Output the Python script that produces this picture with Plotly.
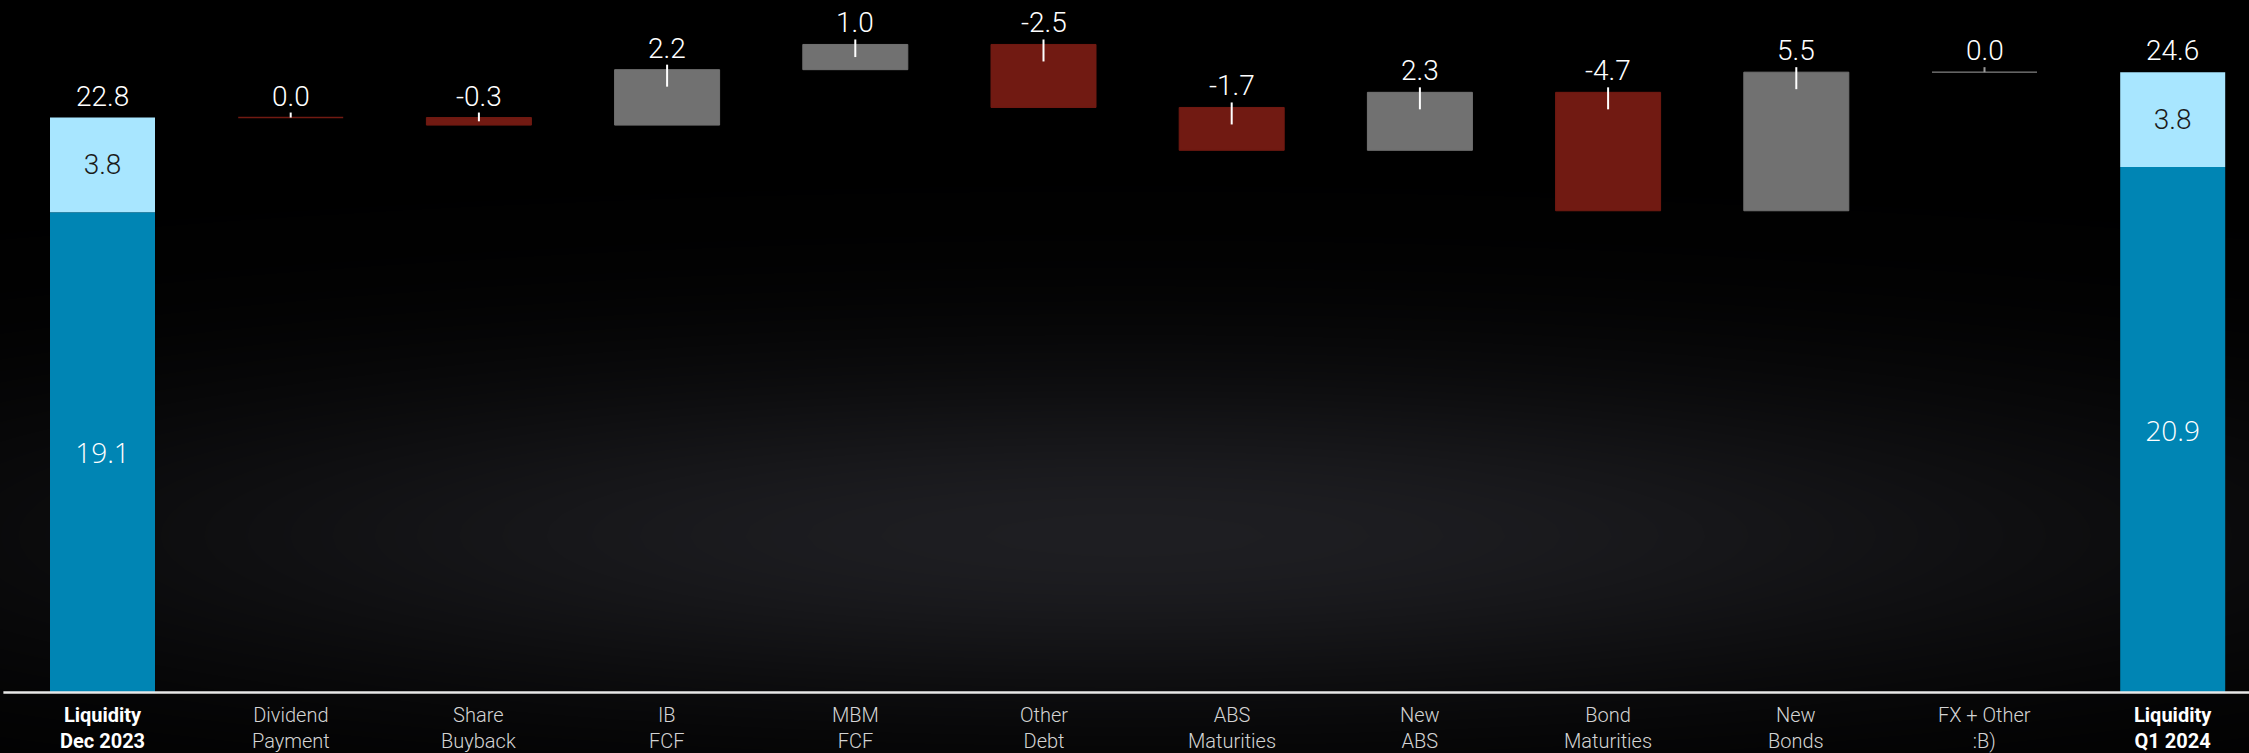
import numpy as np
import plotly.graph_objects as go

# ---- data -------------------------------------------------------------
categories = [
    "Liquidity<br>Dec 2023", "Dividend<br>Payment", "Share<br>Buyback",
    "IB<br>FCF", "MBM<br>FCF", "Other<br>Debt", "ABS<br>Maturities",
    "New<br>ABS", "Bond<br>Maturities", "New<br>Bonds", "FX + Other<br>:B)",
    "Liquidity<br>Q1 2024",
]
# opening total split into cash (dark) and other liquidity (light), EUR bn
start_cash = 19.06
start_other = 3.76
steps = [0.0, -0.3, 2.2, 1.0, -2.5, -1.7, 2.3, -4.7, 5.5, 0.0]
end_cash = 20.86
end_other = 3.76
# direction used to colour the steps that round to 0.0
zero_step_direction = {1: -1, 10: +1}

# ---- styles -----------------------------------------------------------
DARK_BLUE = "#0085b4"
LIGHT_BLUE = "#a8e6ff"
RED = "#711a12"
GREY = "#717171"
NARROW = "Roboto, Liberation Sans Narrow, sans-serif"

n = len(categories)
xs = list(range(n))

fig = go.Figure()

# axis scaling (pixels per unit) used for the plot ranges and the glow
PX_PER_X, PX_PER_Y, Y0_PX = 188.2, 25.2, 692.6
X0 = -102.5 / PX_PER_X

# soft glow behind the bars
gx = np.linspace(-0.7, 11.6, 80)
gy = np.linspace(-2.6, 27.8, 70)
px = (gx - X0) * PX_PER_X
py = Y0_PX - gy * PX_PER_Y
PX, PY = np.meshgrid(px, py)
glow = np.exp(-((PX - 1125) / 1080) ** 2 - ((PY - 535) / 170) ** 2)
fig.add_trace(go.Heatmap(
    x=gx, y=gy, z=glow, zsmooth="best", showscale=False, hoverinfo="skip",
    colorscale=[[0, "#000000"], [1, "#1e1e22"]], zmin=0, zmax=1,
))

BAR_W = 105 / PX_PER_X

# opening and closing totals (two stacked segments each)
totals = [(0, start_cash, start_other), (n - 1, end_cash, end_other)]
for xi, cash, other in totals:
    fig.add_trace(go.Bar(
        x=[xi], y=[cash], base=[0], width=BAR_W, marker_color=DARK_BLUE,
        marker_line_width=0, text=[f"{cash:.1f}"], textposition="inside",
        insidetextanchor="middle", textangle=0,
        textfont=dict(family="Open Sans, Noto Sans, sans-serif", size=28,
                      color="white", weight=300),
        hoverinfo="skip",
    ))
    fig.add_trace(go.Bar(
        x=[xi], y=[other], base=[cash], width=BAR_W, marker_color=LIGHT_BLUE,
        marker_line_width=0, text=[f"{other:.1f}"], textposition="inside",
        insidetextanchor="middle", textangle=0,
        textfont=dict(family=NARROW, size=28, color="#1a1a1a", weight=300),
        hoverinfo="skip",
    ))

# floating step bars
level = start_cash + start_other
tops = {0: level}
step_levels = []
for i, d in enumerate(steps, start=1):
    new = level + d
    sign = np.sign(d) if d != 0 else zero_step_direction.get(i, 1)
    color = GREY if sign > 0 else RED
    lo, hi = min(level, new), max(level, new)
    fig.add_trace(go.Bar(
        x=[i], y=[hi - lo], base=[lo], width=BAR_W, marker_color=color,
        marker_line=dict(color=color, width=1.5 if d == 0 and sign < 0 else 1),
        hoverinfo="skip",
    ))
    tops[i] = hi
    step_levels.append((i, lo, hi, d, color))
    level = new
tops[n - 1] = end_cash + end_other

# value labels above every column
labels = {0: start_cash + start_other, n - 1: end_cash + end_other}
for i, lo, hi, d, color in step_levels:
    labels[i] = d
for i in xs:
    fig.add_annotation(
        x=i, y=tops[i], xref="x", yref="y", text=f"{labels[i]:.1f}",
        showarrow=False, yanchor="bottom", yshift=3,
        font=dict(family=NARROW, size=28, color="white", weight=300),
    )

# short marker ticks from each label into its step bar
for i, lo, hi, d, color in step_levels:
    h_px = (hi - lo) * PX_PER_Y
    inside = min(17, h_px / 2)
    fig.add_shape(
        type="line", xref="x", yref="y", x0=i, x1=i,
        ysizemode="pixel", yanchor=hi, y0=5, y1=-inside,
        line=dict(color="#9a9a9a" if (d == 0 and color == GREY) else "white", width=2),
    )

# baseline
fig.add_shape(type="line", xref="paper", yref="y", x0=0.0015, x1=1, y0=0, y1=0,
              line=dict(color="#e8e8e8", width=2.5))

# category labels under the baseline
for i, cat in enumerate(categories):
    is_total = i in (0, n - 1)
    fig.add_annotation(
        x=i, y=0, xref="x", yref="y", text=cat, showarrow=False,
        yanchor="top", yshift=-8,
        font=dict(family=NARROW, size=20,
                  color="#ffffff" if is_total else "#d4d4d4",
                  weight=700 if is_total else 300),
    )

fig.update_layout(
    width=2249, height=753,
    margin=dict(l=0, r=0, t=0, b=0),
    paper_bgcolor="#000000", plot_bgcolor="#000000",
    barmode="overlay", showlegend=False,
    xaxis=dict(range=[X0, X0 + 2249 / PX_PER_X], visible=False, fixedrange=True),
    yaxis=dict(range=[-(753 - Y0_PX) / PX_PER_Y, Y0_PX / PX_PER_Y],
               visible=False, fixedrange=True),
)

fig.write_html("out.html")
